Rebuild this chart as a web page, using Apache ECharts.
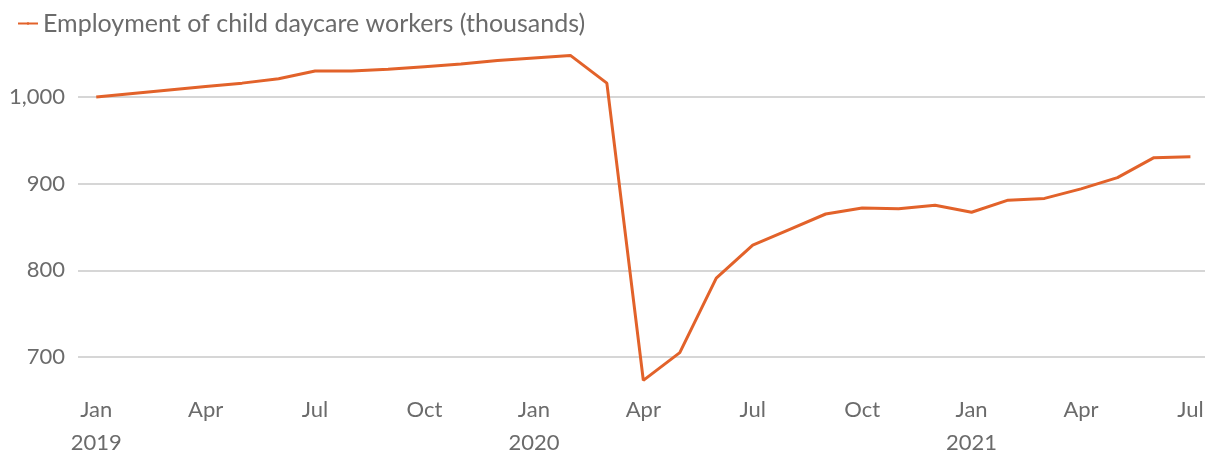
<!DOCTYPE html>
<html>
<head>
<meta charset="utf-8">
<script src="https://cdn.jsdelivr.net/npm/echarts@6/dist/echarts.min.js"></script>
<style>
  html, body { margin: 0; padding: 0; background: #fff; }
  #chart { width: 1215px; height: 459px; }
</style>
</head>
<body>
<div id="chart"></div>
<script>
const seriesName = "Employment of child daycare workers (thousands)";

// Jan 2019 .. Jul 2021, one entry per month
const monthLabels = [
  "Jan\n2019", "Feb", "Mar", "Apr", "May", "Jun", "Jul", "Aug", "Sep", "Oct", "Nov", "Dec",
  "Jan\n2020", "Feb", "Mar", "Apr", "May", "Jun", "Jul", "Aug", "Sep", "Oct", "Nov", "Dec",
  "Jan\n2021", "Feb", "Mar", "Apr", "May", "Jun", "Jul"
];

const employment = [
  1000, 1004, 1008, 1012, 1016, 1021, 1030, 1030, 1032, 1035, 1038, 1042,
  1045, 1048, 1016, 673, 705, 791, 829, 847, 865, 872, 871, 875,
  867, 881, 883, 894, 907, 930, 931
];

const xTicks = [0, 3, 6, 9, 12, 15, 18, 21, 24, 27, 30];

const FONT = "Lato";
const TEXT = "#6b6b6b";
const ORANGE = "#e2622a";

const chart = echarts.init(document.getElementById("chart"), null, { renderer: "canvas" });

chart.setOption({
  animation: false,
  backgroundColor: "#fff",
  textStyle: { fontFamily: FONT },
  legend: {
    left: 12,
    top: 6,
    itemWidth: 20,
    itemHeight: 3,
    itemGap: 5,
    textStyle: { color: TEXT, fontSize: 25, fontFamily: FONT },
    data: [seriesName]
  },
  grid: { left: 78, right: 10, top: 97, bottom: 92 },
  xAxis: {
    type: "value",
    min: -0.5,
    max: 30.4,
    axisLine: { show: false },
    axisTick: { show: false },
    splitLine: { show: false },
    axisLabel: {
      customValues: xTicks,
      formatter: (v) => monthLabels[v] || "",
      color: TEXT,
      fontSize: 22,
      lineHeight: 33,
      margin: 36,
      fontFamily: FONT
    }
  },
  yAxis: {
    type: "value",
    min: 700,
    max: 1000,
    interval: 100,
    axisLine: { show: false },
    axisTick: { show: false },
    splitLine: { lineStyle: { color: "#d6d6d6", width: 2 } },
    axisLabel: {
      color: TEXT,
      fontSize: 22,
      margin: 13,
      fontFamily: FONT,
      formatter: (v) => v.toLocaleString("en-US")
    }
  },
  series: [{
    name: seriesName,
    type: "line",
    data: employment.map((v, i) => [i, v]),
    symbol: "none",
    clip: false,
    lineStyle: { color: ORANGE, width: 3 },
    itemStyle: { color: ORANGE }
  }]
});
</script>
</body>
</html>
